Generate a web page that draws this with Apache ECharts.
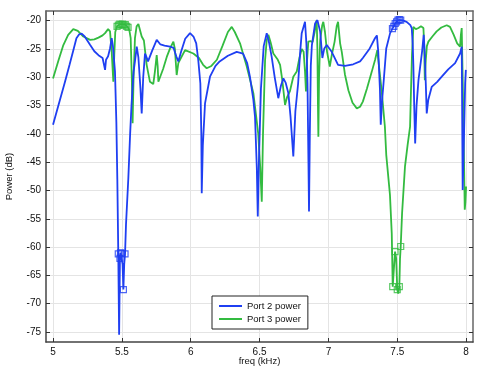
<!DOCTYPE html>
<html><head><meta charset="utf-8">
<script src="https://cdn.jsdelivr.net/npm/echarts@6/dist/echarts.min.js"></script>
<style>html,body{margin:0;padding:0;background:#fff}#c{width:479px;height:366px}</style>
</head><body><div id="c"></div>
<script>
const xTicks = [5, 5.5, 6, 6.5, 7, 7.5, 8];
const yTicks = [-75, -70, -65, -60, -55, -50, -45, -40, -35, -30, -25, -20];

const port2 = [[5.00,-38.4],[5.05,-34.0],[5.087,-30.8],[5.12,-27.8],[5.15,-25.0],[5.17,-23.1],[5.19,-22.4],[5.208,-22.3],[5.23,-22.8],[5.27,-24.3],[5.30,-25.4],[5.33,-26.1],[5.36,-26.6],[5.372,-26.8],[5.378,-28.7],[5.385,-26.9],[5.40,-26.3],[5.414,-24.9],[5.426,-23.1],[5.435,-24.5],[5.45,-29],[5.46,-38],[5.467,-48],[5.474,-61.2],[5.48,-75.5],[5.486,-62],[5.49,-61.0],[5.499,-61.1],[5.505,-63],[5.511,-67.5],[5.517,-63],[5.523,-61.2],[5.53,-56],[5.547,-47.8],[5.56,-40],[5.57,-34.9],[5.585,-29],[5.595,-27.2],[5.608,-24.6],[5.62,-26.5],[5.635,-32],[5.644,-36.4],[5.655,-30],[5.668,-25.8],[5.678,-26.4],[5.69,-27.2],[5.72,-25.3],[5.753,-23.4],[5.78,-24.2],[5.81,-24.4],[5.85,-24.6],[5.875,-24.8],[5.895,-26.3],[5.91,-27.2],[5.93,-25.5],[5.96,-23.2],[5.995,-22.2],[6.02,-22.8],[6.04,-24],[6.055,-27],[6.07,-31.1],[6.077,-40],[6.08,-50.5],[6.088,-42],[6.104,-34.6],[6.14,-29.9],[6.18,-28.0],[6.21,-27.2],[6.27,-26.2],[6.334,-25.5],[6.38,-25.8],[6.41,-27.5],[6.43,-29.9],[6.455,-34],[6.467,-37],[6.48,-46],[6.487,-54.6],[6.495,-45],[6.51,-32],[6.53,-24.5],[6.552,-22.2],[6.57,-24],[6.588,-26.4],[6.61,-30],[6.636,-33.7],[6.655,-31.5],[6.673,-30.2],[6.69,-31],[6.709,-32.8],[6.725,-37],[6.745,-44.0],[6.76,-36],[6.78,-31.1],[6.795,-25.5],[6.806,-22.2],[6.83,-20.2],[6.84,-24],[6.848,-31],[6.855,-45],[6.859,-53.7],[6.865,-40],[6.872,-28],[6.88,-24.3],[6.903,-20.5],[6.92,-19.9],[6.94,-21.9],[6.956,-26.6],[6.97,-24.9],[6.988,-24.3],[7.024,-25.5],[7.07,-27.8],[7.12,-28.0],[7.18,-27.7],[7.23,-27.2],[7.25,-26.6],[7.30,-24.9],[7.338,-23.1],[7.352,-22.6],[7.362,-25.5],[7.374,-32],[7.38,-38.4],[7.39,-34],[7.399,-31.4],[7.42,-24.9],[7.448,-22.2],[7.465,-21.4],[7.475,-21.0],[7.485,-20.5],[7.495,-20.2],[7.505,-19.9],[7.515,-19.8],[7.525,-19.9],[7.545,-20.0],[7.568,-20.2],[7.595,-20.8],[7.605,-21.3],[7.612,-24],[7.617,-28],[7.623,-35],[7.63,-41.7],[7.64,-35],[7.654,-30.5],[7.68,-25.5],[7.692,-22.5],[7.70,-26],[7.707,-31],[7.714,-36.4],[7.725,-34],[7.75,-31.7],[7.79,-30.8],[7.823,-29.9],[7.87,-28.6],[7.92,-27.5],[7.956,-25.8],[7.968,-24.6],[7.971,-35],[7.975,-49.9],[7.985,-40],[7.993,-31],[7.998,-28.7]];

const port3 = [[5.00,-30.2],[5.04,-27],[5.075,-24.3],[5.11,-22.5],[5.147,-21.5],[5.18,-21.8],[5.22,-22.8],[5.27,-23.4],[5.30,-23.3],[5.33,-23.0],[5.36,-22.6],[5.378,-22.2],[5.40,-21.5],[5.414,-21.9],[5.426,-25.5],[5.438,-30.8],[5.445,-26],[5.452,-22],[5.465,-21.0],[5.475,-20.8],[5.485,-20.6],[5.495,-20.7],[5.505,-20.6],[5.515,-20.8],[5.525,-20.7],[5.535,-21.0],[5.545,-21.2],[5.555,-21.8],[5.564,-23.1],[5.572,-30],[5.578,-38.1],[5.585,-30],[5.595,-23.1],[5.607,-21],[5.62,-20.6],[5.632,-20.8],[5.644,-22.8],[5.66,-23.5],[5.68,-27.8],[5.704,-30.8],[5.728,-31.2],[5.74,-29],[5.753,-26.1],[5.76,-28],[5.765,-30.8],[5.777,-30.8],[5.80,-28.5],[5.826,-26.4],[5.85,-24.9],[5.874,-23.7],[5.885,-25],[5.898,-29.6],[5.91,-27.5],[5.922,-26.9],[5.959,-25.2],[6.019,-25.8],[6.06,-26.6],[6.09,-27.8],[6.116,-28.4],[6.15,-28.0],[6.19,-26.9],[6.23,-24.5],[6.27,-22.0],[6.298,-21.1],[6.32,-22],[6.358,-24],[6.407,-28.1],[6.455,-32.8],[6.49,-39.9],[6.505,-46],[6.516,-52],[6.525,-40],[6.54,-27],[6.552,-23.4],[6.564,-22.5],[6.58,-23.8],[6.6,-25.8],[6.63,-26.8],[6.649,-27.8],[6.665,-30.5],[6.685,-34.9],[6.70,-33.5],[6.72,-32.5],[6.745,-29.9],[6.77,-29],[6.79,-26.5],[6.806,-25.0],[6.82,-25.5],[6.83,-29],[6.837,-32.5],[6.845,-27],[6.854,-23.7],[6.87,-23.6],[6.885,-23.8],[6.90,-22],[6.915,-19.9],[6.92,-25],[6.924,-35],[6.927,-40.5],[6.932,-30],[6.94,-23.5],[6.955,-20.8],[6.963,-20.2],[6.975,-22],[6.99,-25.5],[7.01,-28.1],[7.025,-26],[7.045,-23.7],[7.06,-21],[7.07,-20.2],[7.085,-24],[7.097,-25.5],[7.12,-29.5],[7.145,-32.3],[7.175,-34.5],[7.206,-35.5],[7.23,-35.2],[7.25,-34.3],[7.28,-32],[7.315,-29],[7.34,-26.8],[7.355,-25.2],[7.365,-27.5],[7.387,-32.5],[7.41,-38.7],[7.42,-43.7],[7.447,-50.8],[7.46,-57.6],[7.467,-67],[7.475,-64],[7.484,-60.8],[7.492,-62],[7.50,-67.5],[7.507,-68.2],[7.515,-67],[7.52,-62],[7.525,-59.9],[7.535,-54],[7.556,-45.8],[7.575,-42],[7.593,-38.7],[7.60,-32],[7.607,-26],[7.617,-21.1],[7.635,-21.5],[7.654,-21.3],[7.672,-21.0],[7.69,-21.3],[7.695,-24],[7.70,-30.5],[7.707,-27],[7.715,-24.5],[7.726,-23.7],[7.755,-22.8],[7.786,-21.9],[7.82,-21.2],[7.859,-20.8],[7.883,-21.1],[7.91,-22.5],[7.935,-24],[7.956,-24.6],[7.962,-22.5],[7.968,-21.3],[7.975,-30],[7.985,-45],[7.99,-53.4],[7.995,-52],[8.0,-49.3]];

const port2Markers = [[5.474,-61.2],[5.486,-62],[5.49,-61.0],[5.499,-61.1],[5.511,-67.5],[5.523,-61.2],[7.465,-21.4],[7.475,-21.0],[7.485,-20.5],[7.495,-20.2],[7.505,-19.9],[7.515,-19.8],[7.525,-19.9]];
const port3Markers = [[5.465,-21.0],[5.475,-20.8],[5.485,-20.6],[5.495,-20.7],[5.505,-20.6],[5.515,-20.8],[5.525,-20.7],[5.535,-21.0],[5.545,-21.2],[7.467,-67],[7.484,-60.8],[7.50,-67.5],[7.515,-67],[7.525,-59.9]];

const BLUE = '#1f3ff2', GREEN = '#33bb40';
const FONT = "'Liberation Sans', Arial, sans-serif";
const chart = echarts.init(document.getElementById('c'), null, {renderer: 'canvas'});
const X_MIN = 4.949, X_MAX = 8.05, Y_MIN = -76.77, Y_MAX = -18.29;
const tickStyle = {show: true, inside: true, length: 4, lineStyle: {color: '#333', width: 1}};
chart.setOption({
  animation: false,
  backgroundColor: '#fff',
  textStyle: {fontFamily: FONT},
  grid: {left: 46, right: 6, top: 11, bottom: 24, show: false, containLabel: false, outerBoundsMode: 'none'},
  xAxis: [{
    type: 'value', min: X_MIN, max: X_MAX, position: 'bottom',
    name: 'freq (kHz)', nameLocation: 'middle', nameGap: 14, nameMoveOverlap: false,
    nameTextStyle: {fontSize: 9.5, color: '#111', fontFamily: FONT},
    axisLine: {show: true, lineStyle: {color: '#444', width: 1.5}},
    axisTick: Object.assign({customValues: xTicks}, tickStyle),
    axisLabel: {customValues: xTicks, fontSize: 10, color: '#111', margin: 5, fontFamily: FONT},
    splitLine: {show: true, lineStyle: {color: '#e4e4e4', width: 1}}
  }, {
    type: 'value', min: X_MIN, max: X_MAX, position: 'top',
    axisLine: {show: true, lineStyle: {color: '#666', width: 1.5}},
    axisTick: Object.assign({customValues: xTicks}, tickStyle),
    axisLabel: {show: false}, splitLine: {show: false}
  }],
  yAxis: [{
    type: 'value', min: Y_MIN, max: Y_MAX, position: 'left',
    name: 'Power (dB)', nameLocation: 'middle', nameGap: 32, nameRotate: 90, nameMoveOverlap: false,
    nameTextStyle: {fontSize: 9.5, color: '#111', fontFamily: FONT},
    axisLine: {show: true, lineStyle: {color: '#444', width: 1.5}},
    axisTick: Object.assign({customValues: yTicks}, tickStyle),
    axisLabel: {customValues: yTicks, fontSize: 10, color: '#111', margin: 5, fontFamily: FONT},
    splitLine: {show: true, lineStyle: {color: '#e4e4e4', width: 1}}
  }, {
    type: 'value', min: Y_MIN, max: Y_MAX, position: 'right',
    axisLine: {show: true, lineStyle: {color: '#666', width: 1.5}},
    axisTick: Object.assign({customValues: yTicks}, tickStyle),
    axisLabel: {show: false}, splitLine: {show: false}
  }],
  legend: {
    data: ['Port 2 power', 'Port 3 power'],
    orient: 'vertical', left: 212, top: 296,
    backgroundColor: '#fff', borderColor: '#222', borderWidth: 1,
    padding: [5, 7, 5, 6], itemGap: 3, itemWidth: 23, itemHeight: 12, itemTextGap: 5,
    itemStyle: {opacity: 0, color: 'rgba(0,0,0,0)', borderWidth: 0},
    lineStyle: {width: 2},
    textStyle: {fontSize: 9.5, color: '#111', fontFamily: FONT}
  },
  series: [
    {name: 'Port 2 power', type: 'line', data: port2, symbol: 'none', showSymbol: false,
     lineStyle: {color: BLUE, width: 1.8}, itemStyle: {color: BLUE}, z: 3},
    {name: 'Port 3 power', type: 'line', data: port3, symbol: 'none', showSymbol: false,
     lineStyle: {color: GREEN, width: 1.8}, itemStyle: {color: GREEN}, z: 2},
    {name: 'p2m', type: 'scatter', data: port2Markers, symbol: 'rect', symbolSize: 6,
     itemStyle: {color: 'rgba(0,0,0,0)', borderColor: BLUE, borderWidth: 1.2}, z: 4},
    {name: 'p3m', type: 'scatter', data: port3Markers, symbol: 'rect', symbolSize: 6,
     itemStyle: {color: 'rgba(0,0,0,0)', borderColor: GREEN, borderWidth: 1.2}, z: 3}
  ]
});
</script></body></html>
